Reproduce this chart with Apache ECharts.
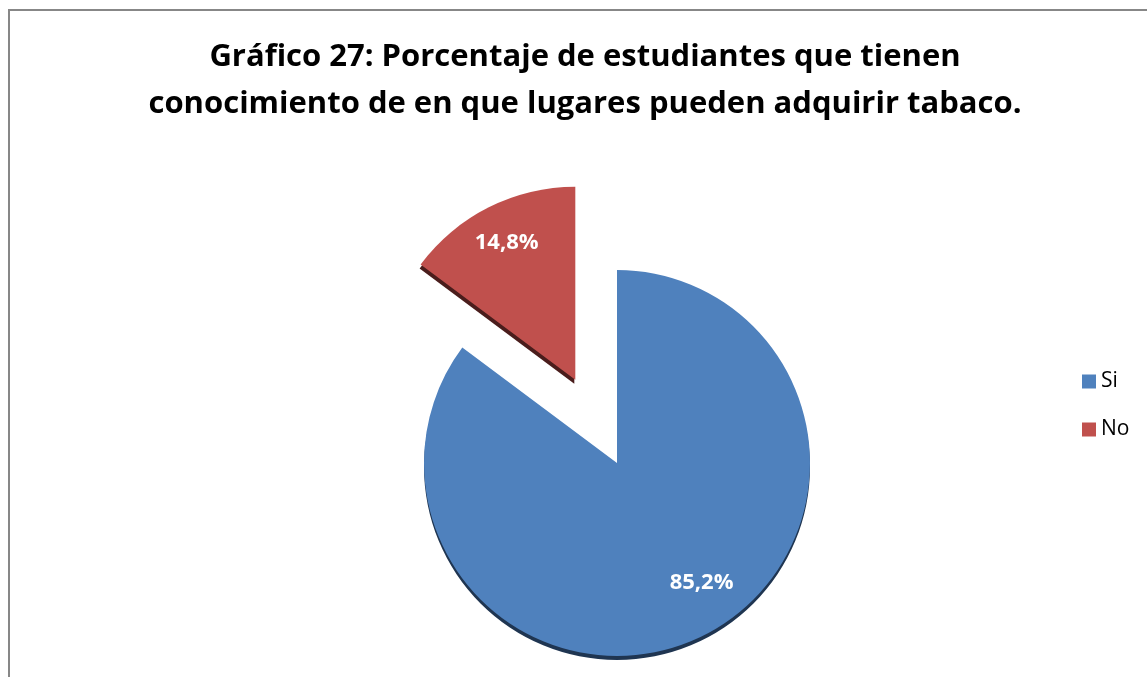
<!DOCTYPE html>
<html>
<head>
<meta charset="utf-8">
<script src="https://cdn.jsdelivr.net/npm/echarts@6/dist/echarts.min.js"></script>
<style>
    html, body { margin: 0; padding: 0; background: #fff; }
    #chart { width: 1147px; height: 677px; }
</style>
</head>
<body>
<div id="chart"></div>
<script>
// datos del gráfico
const categorias = ['Si', 'No'];
const porcentajes = [85.2, 14.8];
const colores = ['#4f81bd', '#c0504d'];
const bordes = ['#1f3551', '#4a1d1c'];

const chart = echarts.init(document.getElementById('chart'), null, { renderer: 'canvas' });

const fmt = p => p.value.toFixed(1).replace('.', ',') + '%';

// la porción "No" va separada
const pieData = categorias.map((name, i) => ({
    name,
    value: porcentajes[i],
    selected: i === 1,
    itemStyle: {
        color: colores[i],
        shadowColor: bordes[i],
        shadowBlur: 0,
        shadowOffsetX: i === 1 ? -1 : 0,
        shadowOffsetY: 4
    }
}));

// serie transparente solo para colocar las etiquetas más hacia afuera
const labelData = categorias.map((name, i) => ({
    name,
    value: porcentajes[i],
    selected: i === 1,
    itemStyle: { color: 'rgba(0,0,0,0)' }
}));

const option = {
    animation: false,
    title: {
        text: 'Gráfico 27: Porcentaje de estudiantes que tienen\nconocimiento de en que lugares pueden adquirir tabaco.',
        left: 580,
        textAlign: 'center',
        top: 29,
        textStyle: {
            fontFamily: 'Open Sans',
            fontWeight: 'bold',
            fontSize: 31,
            lineHeight: 47,
            color: '#000'
        }
    },
    legend: {
        orient: 'vertical',
        left: 1077,
        top: 366,
        itemWidth: 14,
        itemHeight: 14,
        itemGap: 27,
        icon: 'rect',
        data: categorias,
        textStyle: { fontFamily: 'Open Sans', fontSize: 21, color: '#000' }
    },
    color: colores,
    graphic: [{
        type: 'rect',
        shape: { x: 9, y: 10, width: 1200, height: 720 },
        style: { fill: 'none', stroke: '#878787', lineWidth: 2 },
        silent: true
    }],
    series: [
        {
            type: 'pie',
            center: [617, 463],
            radius: 193,
            startAngle: 90,
            clockwise: true,
            selectedMode: 'single',
            selectedOffset: 93,
            label: { show: false },
            labelLine: { show: false },
            emphasis: { disabled: true },
            data: pieData
        },
        {
            type: 'pie',
            center: [617, 463],
            radius: 300,
            startAngle: 90,
            clockwise: true,
            selectedMode: 'single',
            selectedOffset: 93,
            silent: true,
            legendHoverLink: false,
            label: {
                show: true,
                position: 'inside',
                formatter: fmt,
                color: '#fff',
                fontFamily: 'Open Sans',
                fontWeight: 'bold',
                fontSize: 22
            },
            labelLine: { show: false },
            emphasis: { disabled: true },
            data: labelData.map((d, i) => i === 0
                ? Object.assign({}, d, { label: { offset: [16, -17] } })
                : d)
        }
    ]
};

chart.setOption(option);
</script>
</body>
</html>
